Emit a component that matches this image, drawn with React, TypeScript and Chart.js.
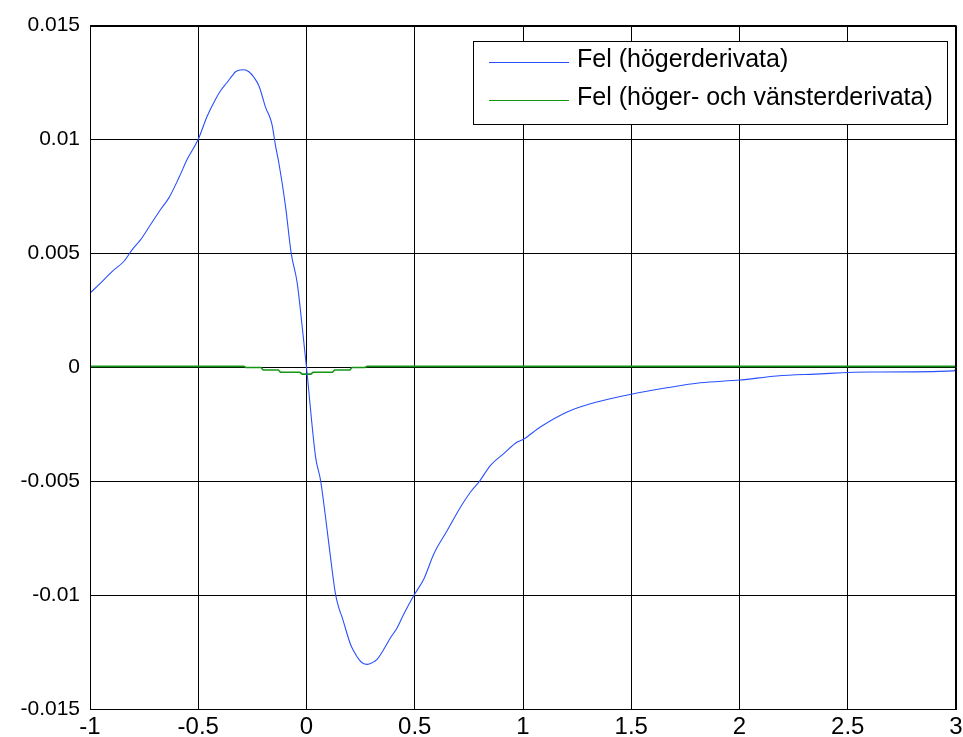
import React, { useEffect, useRef } from 'react';
import { Chart, registerables } from 'chart.js';

Chart.register(...registerables);

// ---- data ----
const seriesLabels = ['Fel (högerderivata)', 'Fel (höger- och vänsterderivata)'];

const blueX = [
  -1.0, -0.943, -0.897, -0.843, -0.805, -0.766, -0.72, -0.674, -0.635, -0.589, -0.551, -0.5,
  -0.458, -0.42, -0.397, -0.366, -0.343, -0.328, -0.308, -0.289, -0.266, -0.243, -0.22, -0.205,
  -0.189, -0.166, -0.158, -0.143, -0.128, -0.097, -0.071, -0.043, -0.02, 0.0, 0.042, 0.065, 0.088,
  0.111, 0.134, 0.149, 0.165, 0.203, 0.218, 0.242, 0.257, 0.28, 0.303, 0.326, 0.357, 0.388, 0.419,
  0.449, 0.495, 0.542, 0.588, 0.65, 0.711, 0.757, 0.796, 0.85, 0.911, 0.973, 1.0, 1.08, 1.204,
  1.342, 1.5, 1.665, 1.819, 2.0, 2.172, 2.348, 2.604, 2.989, 3.0,
];
const blueY = [
  0.00326, 0.00378, 0.00422, 0.00466, 0.00517, 0.00561, 0.00627, 0.00693, 0.00745, 0.00833, 0.00913, 0.01001,
  0.01104, 0.01177, 0.01214, 0.01251, 0.0128, 0.01297, 0.01305, 0.01306, 0.01297, 0.01273, 0.01236, 0.01192,
  0.01141, 0.01089, 0.0106, 0.00972, 0.00899, 0.00708, 0.00503, 0.00371, 0.0018, 0.0, -0.00393, -0.00495, -0.00657,
  -0.00833, -0.00994, -0.01053, -0.01097, -0.01214, -0.01243, -0.0128, -0.01295, -0.01302, -0.01295, -0.0128, -0.01236, -0.01185, -0.01141,
  -0.01082, -0.01001, -0.00928, -0.00818, -0.00715, -0.00613, -0.00547, -0.00503, -0.00429, -0.00378, -0.00327, -0.00316, -0.00261, -0.00195,
  -0.00151, -0.00117, -0.00089, -0.00067, -0.00055, -0.00037, -0.00029, -0.0002, -0.00015, -0.00008,
];

const greenX = [
  -1.0, -0.29, -0.28, -0.21, -0.2, -0.13, -0.12, -0.03, -0.02, 0.02, 0.03, 0.12, 0.13, 0.2, 0.21, 0.27, 0.28, 3.0,
];
const greenY = [
  0.00005, 0.00005, 0.0, 0.0, -0.00011, -0.00011, -0.00021, -0.00021, -0.00029, -0.00029, -0.00021, -0.00021,
  -0.00011, -0.00011, 0.0, 0.0, 0.00005, 0.00005,
];

const xTicks = [-1, -0.5, 0, 0.5, 1, 1.5, 2, 2.5, 3];
const xTickLabels = ['-1', '-0.5', '0', '0.5', '1', '1.5', '2', '2.5', '3'];
const yTicks = [-0.015, -0.01, -0.005, 0, 0.005, 0.01, 0.015];
const yTickLabels = ['-0.015', '-0.01', '-0.005', '0', '0.005', '0.01', '0.015'];

const FONT = '"Liberation Sans", Arial, Helvetica, sans-serif';

const framePlugin = {
  id: 'matlabFrame',
  afterDatasetsDraw(chart: any) {
    const { ctx, chartArea } = chart;
    ctx.save();
    ctx.strokeStyle = '#000';
    ctx.lineWidth = 1;
    const l = Math.round(chartArea.left) + 0.5;
    const t = Math.round(chartArea.top) + 0.5;
    const r = Math.round(chartArea.right) - 0.5;
    const b = Math.round(chartArea.bottom) - 0.5;
    ctx.strokeRect(l, t, r - l, b - t);
    ctx.restore();
  },
};

const legendPlugin = {
  id: 'matlabLegend',
  afterDraw(chart: any) {
    const { ctx, chartArea } = chart;
    ctx.save();
    ctx.font = `25px ${FONT}`;
    const ds = chart.data.datasets;
    const tw = Math.max(...ds.map((d: any) => ctx.measureText(d.label).width));
    const right = Math.round(chartArea.right - 9);
    const top = Math.round(chartArea.top + 15.5);
    const w = Math.round(16 + 80 + 8 + tw + 14);
    const h = 83;
    const left = right - w;
    ctx.fillStyle = '#fff';
    ctx.fillRect(left, top, w, h);
    ctx.strokeStyle = '#000';
    ctx.lineWidth = 1;
    ctx.strokeRect(left + 0.5, top + 0.5, w, h);
    ds.forEach((d: any, i: number) => {
      const ly = top + 21 + i * 38 + 0.5;
      ctx.strokeStyle = d.borderColor;
      ctx.lineWidth = 1;
      ctx.beginPath();
      ctx.moveTo(left + 16, ly);
      ctx.lineTo(left + 96, ly);
      ctx.stroke();
      ctx.fillStyle = '#000';
      ctx.textBaseline = 'alphabetic';
      ctx.textAlign = 'left';
      ctx.fillText(d.label, left + 104, top + 25.7 + i * 38);
    });
    ctx.restore();
  },
};

export default function App() {
  const ref = useRef<HTMLCanvasElement | null>(null);

  useEffect(() => {
    if (!ref.current) return;
    const chart = new Chart(ref.current, {
      type: 'scatter',
      data: {
        datasets: [
          {
            label: seriesLabels[0],
            data: blueX.map((x, i) => ({ x, y: blueY[i] })),
            showLine: true,
            borderColor: 'rgb(40, 80, 255)',
            backgroundColor: 'rgb(40, 80, 255)',
            borderWidth: 1.1,
            pointRadius: 0,
            tension: 0.3,
            cubicInterpolationMode: 'monotone',
          },
          {
            label: seriesLabels[1],
            data: greenX.map((x, i) => ({ x, y: greenY[i] })),
            showLine: true,
            borderColor: 'rgb(20, 150, 20)',
            backgroundColor: 'rgb(20, 150, 20)',
            borderWidth: 1.6,
            pointRadius: 0,
            tension: 0,
          },
        ],
      },
      options: {
        responsive: false,
        animation: false,
        devicePixelRatio: 1,
        layout: { padding: { top: 25.5, right: 7, left: 0, bottom: 0 } },
        plugins: {
          legend: { display: false },
          tooltip: { enabled: false },
        },
        scales: {
          x: {
            type: 'linear',
            min: -1,
            max: 3,
            afterBuildTicks: (s: any) => {
              s.ticks = xTicks.map((v) => ({ value: v }));
            },
            afterFit: (s: any) => {
              s.height = 27.5;
              s.paddingLeft = 0;
              s.paddingRight = 0;
            },
            ticks: {
              autoSkip: false,
              maxRotation: 0,
              padding: 3,
              color: '#000',
              font: { family: FONT, size: 24 },
              callback: (v: any) => xTickLabels[xTicks.indexOf(v)] ?? '',
            },
            grid: { color: '#000', lineWidth: 1, drawTicks: false },
            border: { display: true, color: '#000', width: 1 },
          },
          y: {
            type: 'linear',
            min: -0.015,
            max: 0.015,
            afterBuildTicks: (s: any) => {
              s.ticks = yTicks.map((v) => ({ value: v }));
            },
            afterFit: (s: any) => {
              s.width = 90;
              s.paddingTop = 0;
              s.paddingBottom = 0;
            },
            ticks: {
              autoSkip: false,
              padding: 10,
              color: '#000',
              font: { family: FONT, size: 21 },
              callback: (v: any) => yTickLabels[yTicks.indexOf(v)] ?? '',
            },
            grid: { color: '#000', lineWidth: 1, drawTicks: false },
            border: { display: true, color: '#000', width: 1 },
          },
        },
      },
      plugins: [framePlugin, legendPlugin],
    });
    return () => chart.destroy();
  }, []);

  return (
    <div style={{ position: 'absolute', left: 0, top: 0, width: 963, height: 737, background: '#fff' }}>
      <canvas ref={ref} width={963} height={737} />
    </div>
  );
}
